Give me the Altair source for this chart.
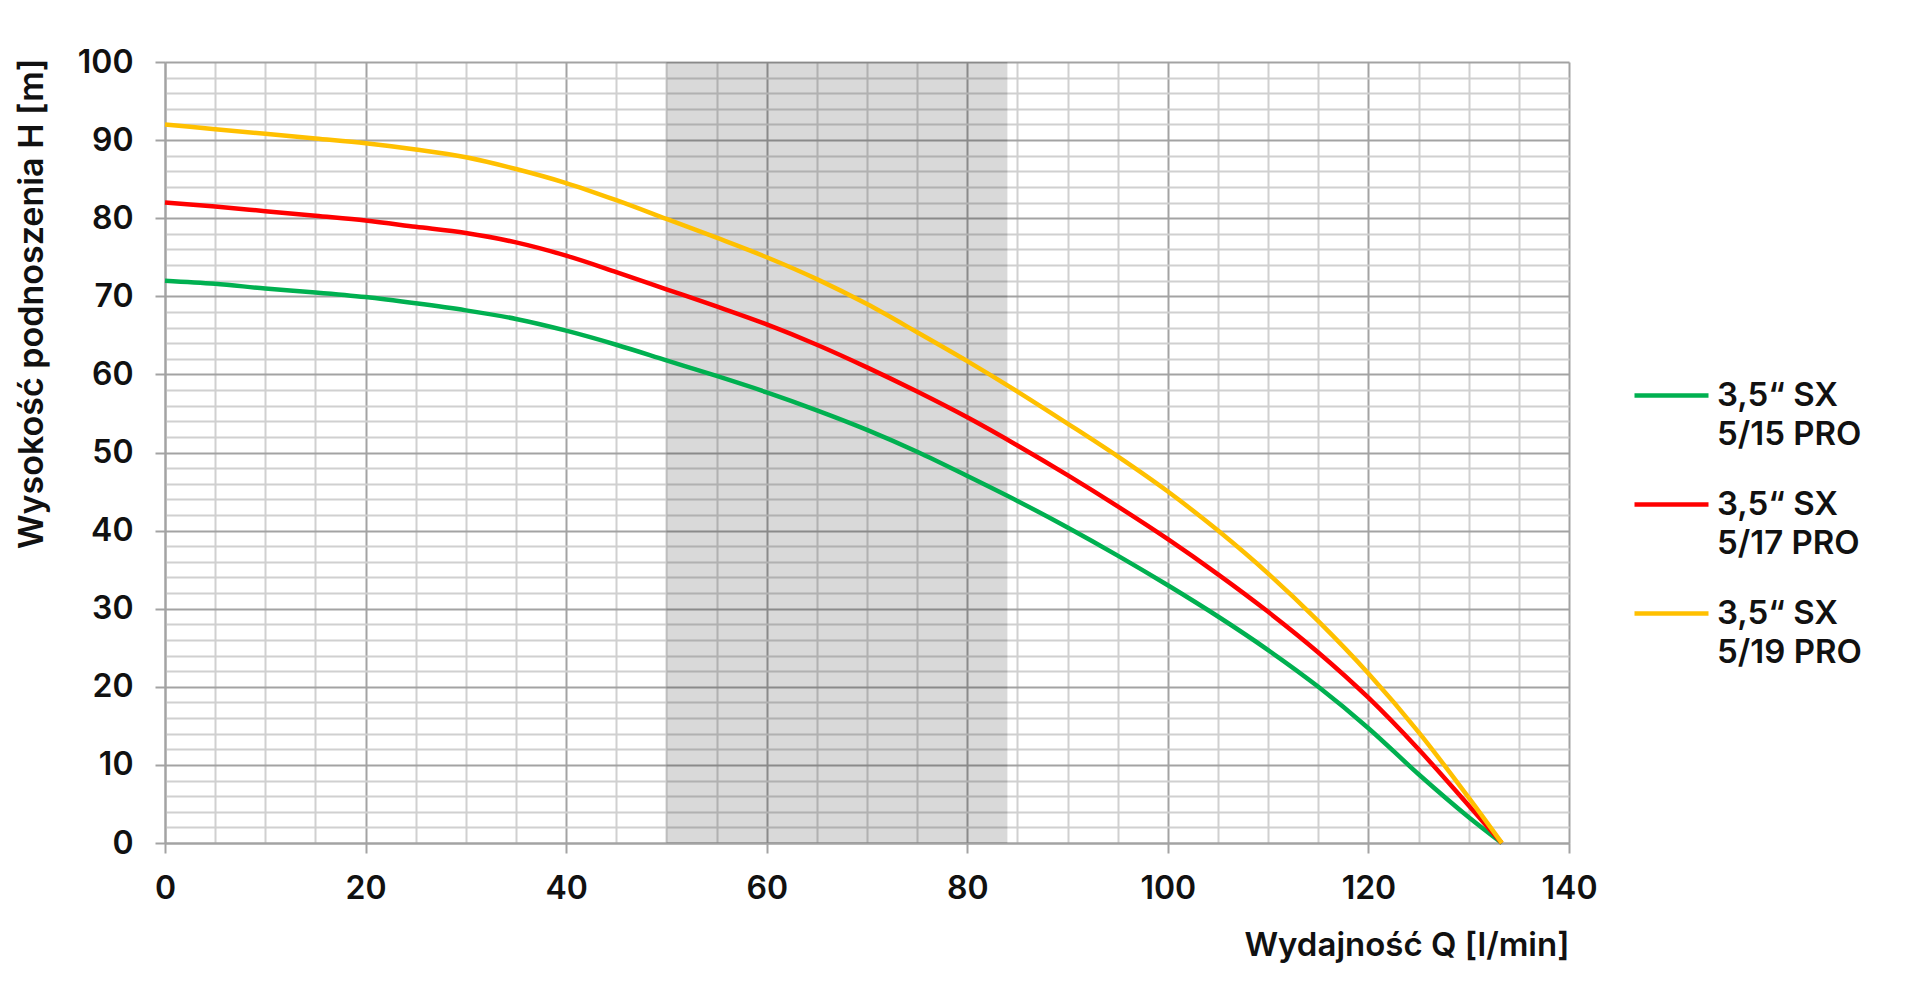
import altair as alt
import pandas as pd

# --- data ---
flow_q = [0, 5, 10, 15, 20, 25, 30, 35, 40, 45, 50, 55, 60, 65, 70, 75, 80,
          85, 90, 95, 100, 105, 110, 115, 120, 125, 130, 133.3]

head_515 = [72.0, 71.6, 71.0, 70.5, 69.9, 69.1, 68.2, 67.1, 65.6, 63.8, 61.8,
            59.8, 57.7, 55.4, 52.9, 50.1, 47.0, 43.8, 40.4, 36.8, 33.0, 29.0,
            24.7, 20.0, 14.7, 8.8, 3.3, 0.0]
head_517 = [82.0, 81.5, 80.9, 80.3, 79.7, 78.9, 78.1, 76.9, 75.2, 73.1, 70.9,
            68.7, 66.4, 63.8, 60.9, 57.8, 54.5, 50.9, 47.1, 43.1, 38.9, 34.4,
            29.6, 24.4, 18.6, 12.0, 4.8, 0.0]
head_519 = [92.0, 91.4, 90.8, 90.2, 89.6, 88.8, 87.8, 86.3, 84.5, 82.3, 79.9,
            77.5, 75.0, 72.2, 69.0, 65.4, 61.7, 57.8, 53.7, 49.5, 45.0, 40.0,
            34.5, 28.4, 21.7, 14.2, 5.8, 0.0]

series_names = ["3,5\u201c SX 5/15 PRO", "3,5\u201c SX 5/17 PRO", "3,5\u201c SX 5/19 PRO"]
series_colors = ["#00b050", "#ff0000", "#ffc000"]

shade_start = [50]
shade_end = [84]

x_ticks = list(range(0, 141, 5))
y_ticks = list(range(0, 101, 2))

rows = []
for name, heads in zip(series_names, [head_515, head_517, head_519]):
    for q, h in zip(flow_q, heads):
        rows.append({"Q": q, "H": h, "series": name})
df = pd.DataFrame(rows)
shade_df = pd.DataFrame({"start": shade_start, "end": shade_end})

FONT = "Inter"
MAJOR = "#a3a3a3"
MINOR = "#d0d0d0"
TEXT = "#111111"

x_axis = alt.Axis(
    values=x_ticks,
    title="Wydajność Q [l/min]",
    titleAnchor="end",
    titleAlign="right",
    titleBaseline="alphabetic",
    titleY=112,
    titleFont=FONT, titleFontSize=33, titleFontWeight=600, titleColor=TEXT,
    labelExpr="datum.value % 20 === 0 ? datum.label : ''",
    labelFont=FONT, labelFontSize=32, labelFontWeight=600, labelColor=TEXT,
    labelBaseline="alphabetic", labelPadding=45, labelFlush=False, labelOverlap=False,
    tickSize=10, tickWidth=2,
    tickColor={"condition": {"test": "datum.value % 20 === 0", "value": MAJOR}, "value": "transparent"},
    gridColor={"condition": {"test": "datum.value % 20 === 0", "value": MAJOR}, "value": MINOR},
    gridWidth=2,
    domainColor=MAJOR, domainWidth=2,
)

y_axis = alt.Axis(
    values=y_ticks,
    title="Wysokość podnoszenia H [m]",
    titleAnchor="end",
    titleAlign="right",
    titleAngle=-90,
    titleBaseline="alphabetic",
    titleX=-123, titleY=-4,
    titleFont=FONT, titleFontSize=34, titleFontWeight=600, titleColor=TEXT,
    labelExpr="datum.value % 10 === 0 ? datum.label : ''",
    labelFont=FONT, labelFontSize=32, labelFontWeight=600, labelColor=TEXT,
    labelPadding=22, labelOverlap=False,
    tickSize=10, tickWidth=2,
    tickColor={"condition": {"test": "datum.value % 10 === 0", "value": MAJOR}, "value": "transparent"},
    gridColor={"condition": {"test": "datum.value % 10 === 0", "value": MAJOR}, "value": MINOR},
    gridWidth=2,
    domainColor=MAJOR, domainWidth=2,
)

legend = alt.Legend(
    title=None,
    orient="none",
    legendX=1467,
    legendY=294,
    symbolType="stroke",
    symbolSize=5476,
    symbolStrokeWidth=4.5,
    labelExpr="[slice(datum.label, 0, 7), slice(datum.label, 8)]",
    labelFont=FONT, labelFontSize=33, labelFontWeight=600, labelColor=TEXT,
    labelBaseline="middle",
    labelOffset=6,
    labelLimit=400,
    rowPadding=13,
    padding=0,
)

shade = alt.Chart(shade_df).mark_rect(color="#000000", opacity=0.15).encode(
    x=alt.X("start:Q", scale=alt.Scale(domain=[0, 140], nice=False), axis=x_axis),
    x2="end:Q",
)

lines = alt.Chart(df).mark_line(strokeWidth=4.5, interpolate="monotone").encode(
    x=alt.X("Q:Q", scale=alt.Scale(domain=[0, 140], nice=False), axis=x_axis),
    y=alt.Y("H:Q", scale=alt.Scale(domain=[0, 100], nice=False), axis=y_axis),
    color=alt.Color("series:N", scale=alt.Scale(domain=series_names, range=series_colors),
                    legend=legend),
)

chart = (
    alt.layer(shade, lines)
    .properties(
        width=1404,
        height=781,
        autosize=alt.AutoSizeParams(type="none"),
        padding={"left": 157, "top": 54, "right": 335, "bottom": 130},
        background="#ffffff",
    )
    .configure(style={"guide-label": {"lineHeight": 39}})
    .configure_view(stroke=None)
)

chart.save("out.html", embed_options={"renderer": "svg", "actions": False})
